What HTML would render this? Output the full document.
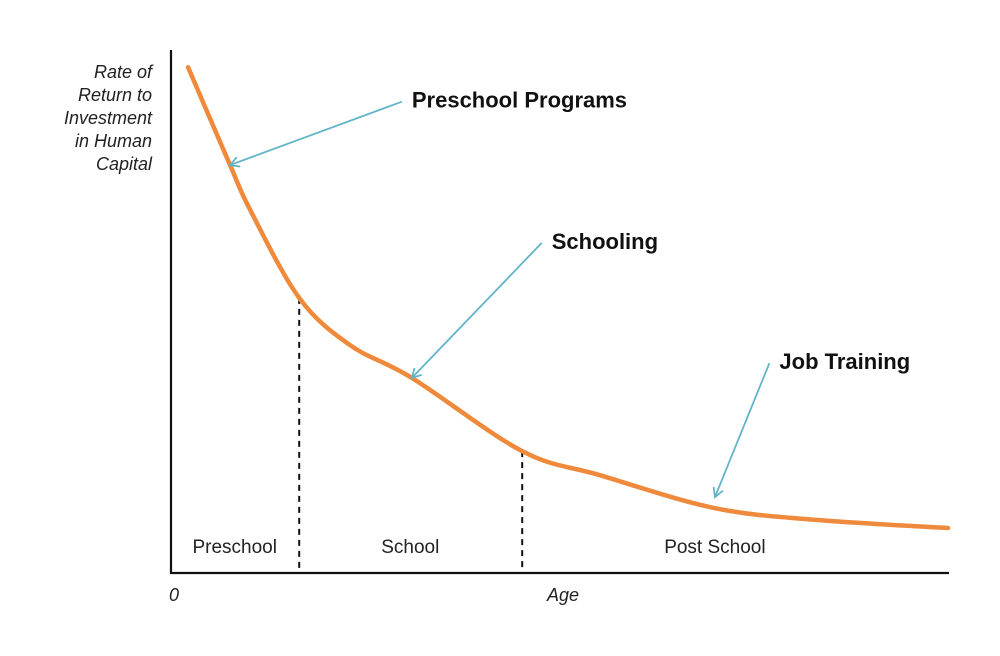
<!DOCTYPE html>
<html><head><meta charset="utf-8"><style>
body{margin:0;background:#fff}
svg{display:block;font-family:"Liberation Sans",sans-serif}
</style></head><body>
<svg id="chart" width="1000" height="656" viewBox="0 0 1000 656">
<defs><marker id="ah" markerWidth="12" markerHeight="12" refX="10" refY="6" orient="auto" markerUnits="userSpaceOnUse"><path d="M1,1 L10,6 L1,11" fill="none" stroke="#62b4c9" stroke-width="1.8"/></marker></defs>
<g id="axes">
<line x1="171" y1="50" x2="171" y2="574" stroke="#111" stroke-width="2.2"/>
<line x1="170" y1="573" x2="949" y2="573" stroke="#111" stroke-width="2.2"/>
</g>
<g font-style="italic" font-size="18" fill="#222" text-anchor="end">
<text x="152" y="78">Rate of</text><text x="152" y="101">Return to</text><text x="152" y="124">Investment</text><text x="152" y="147">in Human</text><text x="152" y="170">Capital</text>
</g>
<text x="174" y="601" font-size="18" fill="#222" font-style="italic" text-anchor="middle">0</text>
<text x="563" y="601" font-size="18" fill="#222" font-style="italic" text-anchor="middle">Age</text>
<g id="dyn"></g>
</svg>
<script>
const curveX=[0.22,0.76,1.02,1.65,2.3,3.1,4.52,5.52,7.0,8.35,10];
const curveY=[9.67,7.8,6.94,5.26,4.36,3.73,2.33,1.87,1.24,1.01,0.86];
const boundaries=[1.65,4.52];
const boundaryY=[5.26,2.33];
const stageLabels=["Preschool","School","Post School"];
const stageCenters=[0.82,3.08,7.0];
const annotations=["Preschool Programs","Schooling","Job Training"];
const annotTargetX=[0.76,3.1,7.0];
const annotTargetY=[7.8,3.73,1.45];
const annotTextX=[3.1,4.9,7.83];
const annotTextY=[9.05,6.35,4.05];
const sx=v=>171+v*77.7, sy=v=>573-v*52.3;
const g=document.getElementById('dyn'), NS='http://www.w3.org/2000/svg';
function mk(t,a){const e=document.createElementNS(NS,t);for(const k in a)e.setAttribute(k,a[k]);g.appendChild(e);return e;}
// curve (catmull-rom)
const P=curveX.map((x,i)=>[sx(x),sy(curveY[i])]);
let d='M'+P[0][0]+','+P[0][1];
for(let i=0;i<P.length-1;i++){const p0=P[i-1]||P[i],p1=P[i],p2=P[i+1],p3=P[i+2]||p2;
d+=' C'+(p1[0]+(p2[0]-p0[0])/6)+','+(p1[1]+(p2[1]-p0[1])/6)+' '+(p2[0]-(p3[0]-p1[0])/6)+','+(p2[1]-(p3[1]-p1[1])/6)+' '+p2[0]+','+p2[1];}
boundaries.forEach((b,i)=>{const l=mk('line',{x1:sx(b),x2:sx(b),y1:sy(boundaryY[i]),y2:573,stroke:'#111','stroke-width':2,'stroke-dasharray':'6,5'});

});
const c=mk('path',{d:d,fill:'none',stroke:'#ef8a3c','stroke-width':4.5,'stroke-linecap':'round'});


stageLabels.forEach((s,i)=>{const t=mk('text',{x:sx(stageCenters[i]),y:553,'font-size':19,fill:'#222','text-anchor':'middle','font-weight':'300'});t.textContent=s;

});
annotations.forEach((s,i)=>{const tx=sx(annotTextX[i]),ty=sy(annotTextY[i]);
const l=mk('line',{x1:tx-10,y1:ty+2,x2:sx(annotTargetX[i]),y2:sy(annotTargetY[i]),stroke:'#62b4c9','stroke-width':1.8,'marker-end':'url(#ah)'});


const t=mk('text',{x:tx,y:ty+8,'font-size':22,'font-weight':'bold',fill:'#111'});t.textContent=s;

});
</script>
</body></html>
